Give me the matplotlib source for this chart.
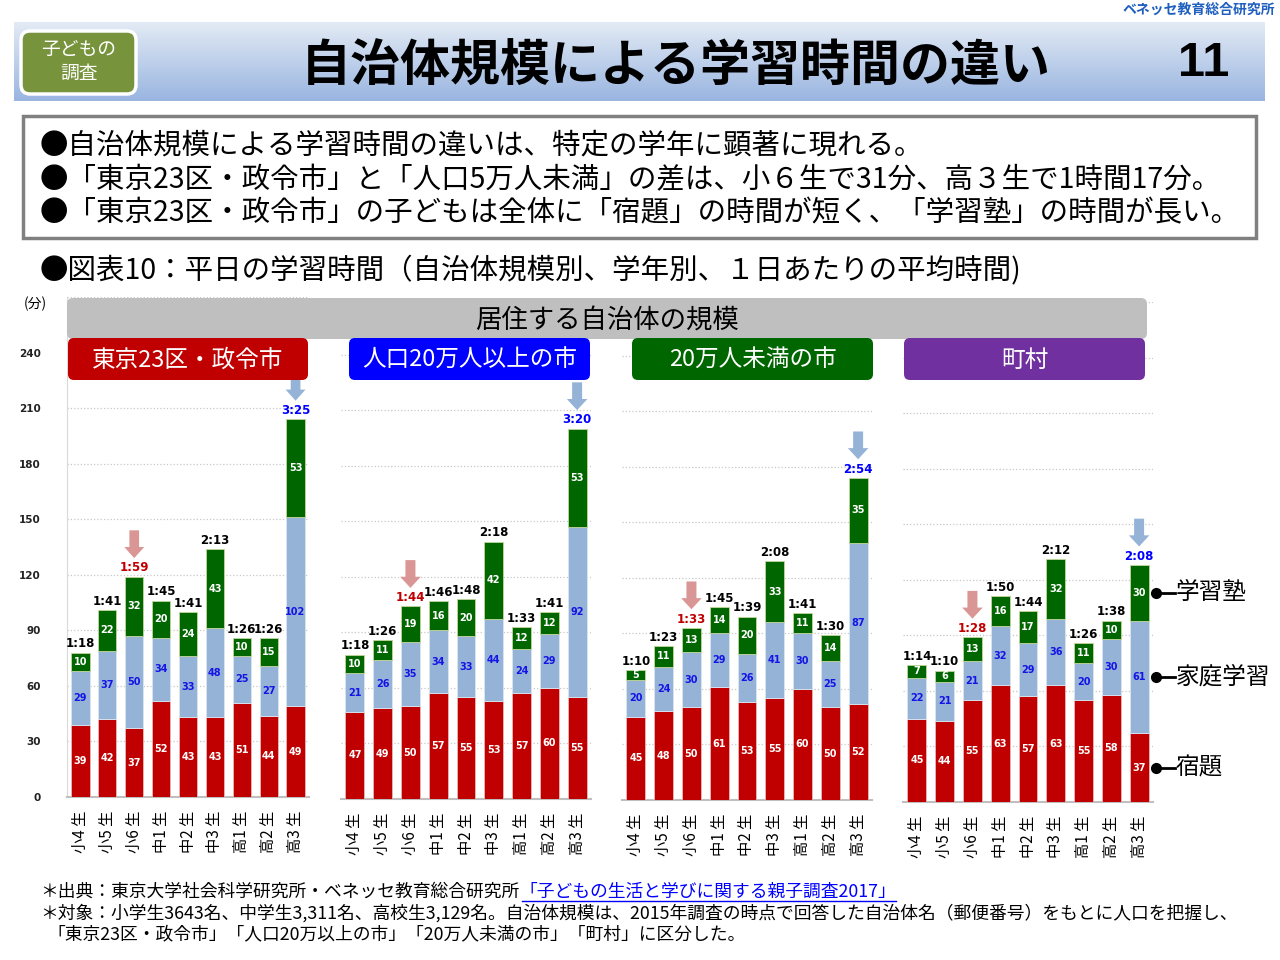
import numpy as np
import matplotlib.pyplot as plt
from matplotlib.patches import FancyBboxPatch, Rectangle, FancyArrow

plt.rcParams['font.family'] = ['Noto Sans CJK JP', 'DejaVu Sans']

W, H = 1280, 960
PX = 500 / 270.0  # pixels per minute on the value axis

grades = ['小4 生', '小5 生', '小6 生', '中1 生', '中2 生', '中3 生', '高1 生', '高2 生', '高3 生']
regions = ['東京23区・政令市', '人口20万人以上の市', '20万人未満の市', '町村']
region_colors = ['#C00000', '#0000FF', '#006600', '#7030A0']
series_names = ['宿題', '家庭学習', '学習塾']

# 東京23区・政令市
tokyo_homework = [39, 42, 37, 52, 43, 43, 51, 44, 49]
tokyo_home = [29, 37, 50, 34, 33, 48, 25, 27, 102]
tokyo_juku = [10, 22, 32, 20, 24, 43, 10, 15, 53]
tokyo_total = ['1:18', '1:41', '1:59', '1:45', '1:41', '2:13', '1:26', '1:26', '3:25']
# 人口20万人以上の市
big_homework = [47, 49, 50, 57, 55, 53, 57, 60, 55]
big_home = [21, 26, 35, 34, 33, 44, 24, 29, 92]
big_juku = [10, 11, 19, 16, 20, 42, 12, 12, 53]
big_total = ['1:18', '1:26', '1:44', '1:46', '1:48', '2:18', '1:33', '1:41', '3:20']
# 20万人未満の市
small_homework = [45, 48, 50, 61, 53, 55, 60, 50, 52]
small_home = [20, 24, 30, 29, 26, 41, 30, 25, 87]
small_juku = [5, 11, 13, 14, 20, 33, 11, 14, 35]
small_total = ['1:10', '1:23', '1:33', '1:45', '1:39', '2:08', '1:41', '1:30', '2:54']
# 町村
town_homework = [45, 44, 55, 63, 57, 63, 55, 58, 37]
town_home = [22, 21, 21, 32, 29, 36, 20, 30, 61]
town_juku = [7, 6, 13, 16, 17, 32, 11, 10, 30]
town_total = ['1:14', '1:10', '1:28', '1:50', '1:44', '2:12', '1:26', '1:38', '2:08']

c_hw = '#C00000'
c_home = '#95B3D7'
c_juku = '#006600'


def rect(x0, y0, x1, y1):
    return [x0 / W, 1 - y1 / H, (x1 - x0) / W, (y1 - y0) / H]


fig = plt.figure(figsize=(12.8, 9.6), dpi=100)

# panel geometry in pixels: left, right, baseline
panels = [(67, 309, 797), (341, 591, 799), (622, 872, 800), (903, 1153, 802)]
data = [(tokyo_homework, tokyo_home, tokyo_juku, tokyo_total),
        (big_homework, big_home, big_juku, big_total),
        (small_homework, small_home, small_juku, small_total),
        (town_homework, town_home, town_juku, town_total)]

axes = []
for k, ((l, r, b), (hw, hm, jk, tot)) in enumerate(zip(panels, data)):
    ax = fig.add_axes(rect(l, b - 270 * PX, r, b))
    axes.append(ax)
    x = np.arange(len(grades))
    hw = np.array(hw); hm = np.array(hm); jk = np.array(jk)
    ax.bar(x, hw, 0.68, color=c_hw, edgecolor='#E6B9B8', lw=0.6, zorder=3)
    ax.bar(x, hm, 0.68, bottom=hw, color=c_home, edgecolor='#DCE6F2', lw=0.6, zorder=3)
    ax.bar(x, jk, 0.68, bottom=hw + hm, color=c_juku, edgecolor='#C3D69B', lw=0.6, zorder=3)
    for i in x:
        ax.text(i, hw[i] / 2, str(hw[i]), ha='center', va='center', color='white',
                fontsize=7, fontweight='bold', family='DejaVu Sans', zorder=4)
        ax.text(i, hw[i] + hm[i] / 2, str(hm[i]), ha='center', va='center', color='#1414E6',
                fontsize=7, fontweight='bold', family='DejaVu Sans', zorder=4)
        ax.text(i, hw[i] + hm[i] + jk[i] / 2, str(jk[i]), ha='center', va='center', color='white',
                fontsize=7, fontweight='bold', family='DejaVu Sans', zorder=4)
        top = hw[i] + hm[i] + jk[i]
        col = 'black'
        if i == 2:
            col = '#C00000'
            ax.add_patch(FancyArrow(i, top + 25, 0, -15, width=0.36, head_width=0.74,
                                    head_length=6, length_includes_head=True,
                                    color='#D99694', lw=0, zorder=4))
        if i == 8:
            col = '#0000FF'
            ax.add_patch(FancyArrow(i, top + 25, 0, -15, width=0.36, head_width=0.74,
                                    head_length=6, length_includes_head=True,
                                    color='#95B3D7', lw=0, zorder=4))
        ax.text(i, top + 1.2, tot[i], ha='center', va='bottom', color=col,
                fontsize=8.5, fontweight='bold', family='DejaVu Sans', zorder=4)
    ax.set_xlim(-0.5, 8.5)
    ax.set_ylim(0, 270)
    ax.set_yticks(range(0, 271, 30))
    ax.grid(axis='y', color='#C8C8C8', ls=':', lw=0.9, zorder=0)
    ax.set_xticks(x)
    ax.set_xticklabels(grades, rotation=90, fontsize=11)
    ax.tick_params(axis='x', length=0, pad=10)
    for s in ['top', 'right', 'left']:
        ax.spines[s].set_visible(False)
    ax.spines['bottom'].set_color('#BFBFBF')
    ax.spines['bottom'].set_linewidth(1.5)
    ax.set_facecolor('none')
    if k == 0:
        ax.spines['left'].set_visible(True)
        ax.spines['left'].set_color('#D9D9D9')
        ax.set_yticklabels([str(v) for v in range(0, 241, 30)] + [''],
                           fontsize=7.5, fontweight='bold', family='DejaVu Sans')
        ax.tick_params(axis='y', length=0, pad=19, colors='#222222')
    else:
        ax.tick_params(axis='y', length=0, labelleft=False)

# right-hand series labels pointing at the last bar of the last panel
ax = axes[3]
last_hw, last_hm, last_jk = town_homework[-1], town_home[-1], town_juku[-1]
mids = [last_hw / 2, last_hw + last_hm / 2, last_hw + last_hm + last_jk / 2]
for name, y in zip(series_names, mids):
    ax.plot([8.62, 9.3], [y, y], color='black', lw=2, clip_on=False, zorder=5)
    ax.plot(8.62, y, 'o', ms=7, color='black', clip_on=False, zorder=5)
    ax.text(9.32, y, name, ha='left', va='center', fontsize=17, zorder=5)

# overlay for header, boxes and notes (pixel coordinates)
ov = fig.add_axes([0, 0, 1, 1])
ov.set_facecolor('none')
grad = np.linspace(0, 1, 100)[:, None, None]
top_c = np.array([0.89, 0.92, 0.96])
bot_c = np.array([0.60, 0.71, 0.88])
ov.imshow(top_c + (bot_c - top_c) * grad, extent=(14, 1265, 101, 22), aspect='auto', zorder=0)
ov.set_xlim(0, W)
ov.set_ylim(H, 0)
ov.axis('off')

ov.add_patch(FancyBboxPatch((21, 31), 115, 63, boxstyle='round,pad=0,rounding_size=9',
                            fc='#77933C', ec='white', lw=2.5, zorder=2))
ov.text(79, 49, '子どもの', ha='center', va='center', color='white', fontsize=13.5, zorder=3)
ov.text(79, 73, '調査', ha='center', va='center', color='white', fontsize=13.5, zorder=3)
ov.text(676, 67, '自治体規模による学習時間の違い', ha='center', va='center',
        fontsize=36, fontweight='bold', zorder=3)
ov.text(1204, 63, '11', ha='center', va='center', fontsize=35, fontweight='bold',
        family='Liberation Sans', zorder=3)
ov.text(1275, 10, 'ベネッセ教育総合研究所', ha='right', va='center', fontsize=10,
        fontweight='bold', color='#1F5FBF')

ov.add_patch(Rectangle((23, 116), 1233, 122, fc='white', ec='#808080', lw=2.5, zorder=1))
bullets = ['●自治体規模による学習時間の違いは、特定の学年に顕著に現れる。',
           '●「東京23区・政令市」と「人口5万人未満」の差は、小６生で31分、高３生で1時間17分。',
           '●「東京23区・政令市」の子どもは全体に「宿題」の時間が短く、「学習塾」の時間が長い。']
for yy, t in zip([145, 180, 213], bullets):
    ov.text(40, yy, t, ha='left', va='center', fontsize=20.5, zorder=2)
ov.text(40, 271, '●図表10：平日の学習時間（自治体規模別、学年別、１日あたりの平均時間)',
        ha='left', va='center', fontsize=20.5)
ov.text(35, 304, '(分)', ha='center', va='center', fontsize=10)

ov.add_patch(FancyBboxPatch((67, 298), 1080, 41, boxstyle='round,pad=0,rounding_size=6',
                            fc='#BFBFBF', ec='none', zorder=2))
ov.text(607, 321, '居住する自治体の規模', ha='center', va='center', fontsize=19, zorder=3)
box_x = [(68, 308), (349, 590), (632, 873), (904, 1145)]
for (x0, x1), name, col in zip(box_x, regions, region_colors):
    ov.add_patch(FancyBboxPatch((x0, 338), x1 - x0, 42, boxstyle='round,pad=0,rounding_size=6',
                                fc=col, ec='none', zorder=3))
    ov.text((x0 + x1) / 2, 360, name, ha='center', va='center', color='white',
            fontsize=17, zorder=4)

# footnotes
src = ov.text(40, 892, '＊出典：東京大学社会科学研究所・ベネッセ教育総合研究所', ha='left',
              va='center', fontsize=12.8)
fig.canvas.draw()
bb = src.get_window_extent().transformed(ov.transData.inverted())
x_link = max(bb.x0, bb.x1)
link = ov.text(x_link, 892, '「子どもの生活と学びに関する親子調査2017」', ha='left', va='center',
               fontsize=12.8, color='#0000FF')
fig.canvas.draw()
lb = link.get_window_extent().transformed(ov.transData.inverted())
ov.plot([x_link + 3, max(lb.x0, lb.x1)], [901, 901], color='#0000FF', lw=1)
ov.text(40, 913, '＊対象：小学生3643名、中学生3,311名、高校生3,129名。自治体規模は、2015年調査の時点で'
        '回答した自治体名（郵便番号）をもとに人口を把握し、', ha='left', va='center', fontsize=12.8)
ov.text(47, 934, '「東京23区・政令市」「人口20万以上の市」「20万人未満の市」「町村」に区分した。',
        ha='left', va='center', fontsize=12.8)

fig.savefig('out.png', dpi=100)
